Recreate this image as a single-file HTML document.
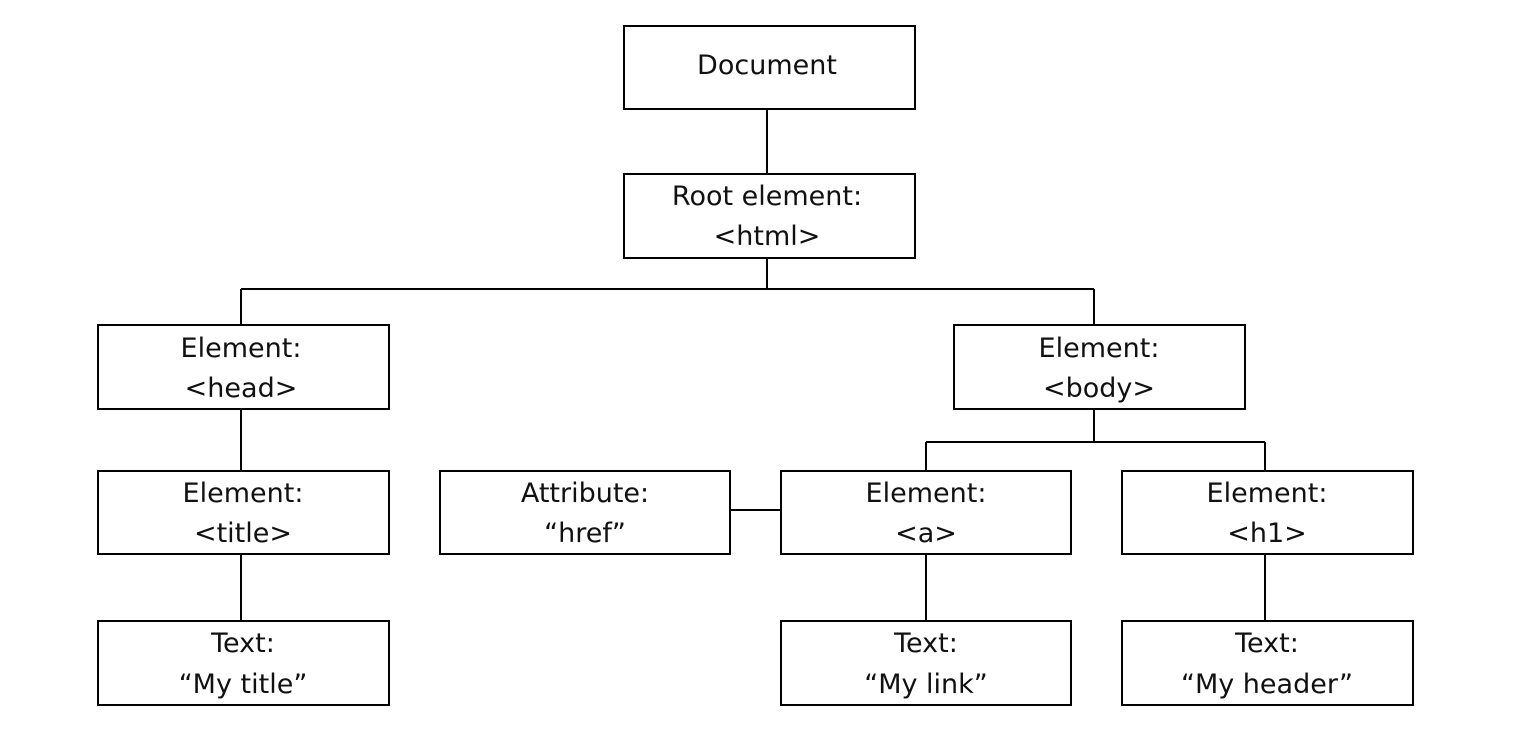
<!DOCTYPE html>
<html><head><style>body{margin:0;background:#fff}</style></head><body>
<svg width="1527" height="743" xmlns="http://www.w3.org/2000/svg" style="display:block">
<g stroke="#000" stroke-width="2" fill="none">
<line x1="767" y1="109" x2="767" y2="174"/>
<line x1="767" y1="258" x2="767" y2="289"/>
<line x1="241" y1="289" x2="1094" y2="289"/>
<line x1="241" y1="289" x2="241" y2="325"/>
<line x1="1094" y1="289" x2="1094" y2="325"/>
<line x1="241" y1="409" x2="241" y2="471"/>
<line x1="241" y1="554" x2="241" y2="621"/>
<line x1="1094" y1="409" x2="1094" y2="442"/>
<line x1="926" y1="442" x2="1265" y2="442"/>
<line x1="926" y1="442" x2="926" y2="471"/>
<line x1="1265" y1="442" x2="1265" y2="471"/>
<line x1="730" y1="510" x2="781" y2="510"/>
<line x1="926" y1="554" x2="926" y2="621"/>
<line x1="1265" y1="554" x2="1265" y2="621"/>
<rect x="624" y="26" width="291" height="83"/>
<rect x="624" y="174" width="291" height="84"/>
<rect x="98" y="325" width="291" height="84"/>
<rect x="954" y="325" width="291" height="84"/>
<rect x="98" y="471" width="291" height="83"/>
<rect x="440" y="471" width="290" height="83"/>
<rect x="781" y="471" width="290" height="83"/>
<rect x="1122" y="471" width="291" height="83"/>
<rect x="98" y="621" width="291" height="84"/>
<rect x="781" y="621" width="290" height="84"/>
<rect x="1122" y="621" width="291" height="84"/>
</g>
<g font-family="DejaVu Sans, Verdana, sans-serif" font-size="27" text-anchor="middle" fill="#111">
<text x="767" y="74">Document</text>
<text x="767" y="205">Root element:</text><text x="767" y="245">&lt;html&gt;</text>
<text x="241" y="357">Element:</text><text x="241" y="397">&lt;head&gt;</text>
<text x="1099" y="357">Element:</text><text x="1099" y="397">&lt;body&gt;</text>
<text x="243" y="502">Element:</text><text x="243" y="542">&lt;title&gt;</text>
<text x="585" y="502">Attribute:</text><text x="585" y="542">“href”</text>
<text x="926" y="502">Element:</text><text x="926" y="542">&lt;a&gt;</text>
<text x="1267" y="502">Element:</text><text x="1267" y="542">&lt;h1&gt;</text>
<text x="243" y="652">Text:</text><text x="243" y="693">“My title”</text>
<text x="926" y="652">Text:</text><text x="926" y="693">“My link”</text>
<text x="1267" y="652">Text:</text><text x="1267" y="693">“My header”</text>
</g>
</svg>
</body></html>
